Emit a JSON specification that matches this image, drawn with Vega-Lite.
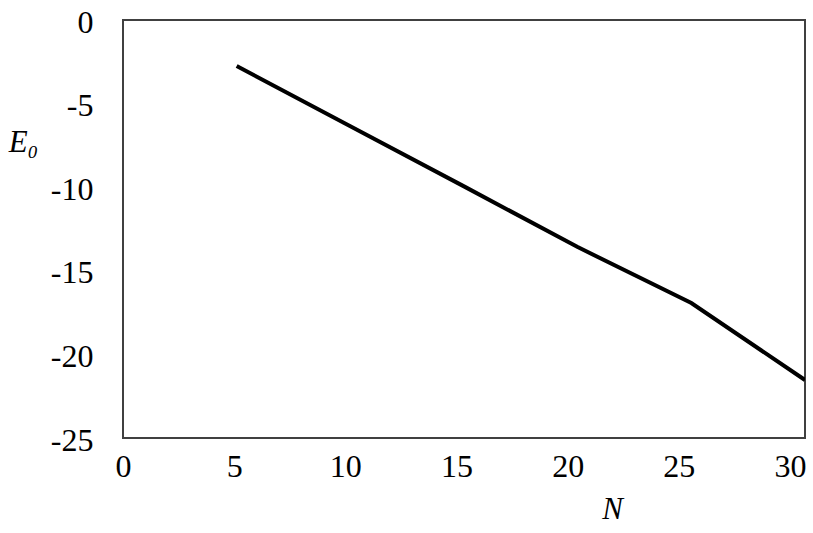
{
  "$schema": "https://vega.github.io/schema/vega-lite/v6.json",
  "width": 682,
  "height": 418,
  "autosize": {"type": "none"},
  "padding": {"left": 123, "top": 20, "right": 8, "bottom": 95},
  "background": "white",
  "config": {
    "view": {"stroke": "#404040", "strokeWidth": 2},
    "axis": {
      "labelFont": "Liberation Serif, Times New Roman, serif",
      "labelFontSize": 32,
      "labelColor": "black",
      "titleFont": "Liberation Serif, Times New Roman, serif",
      "titleFontSize": 31,
      "titleFontWeight": "normal",
      "titleFontStyle": "italic",
      "titleColor": "black",
      "domain": false,
      "ticks": false,
      "grid": false
    }
  },
  "data": {
    "values": [
      {"N": 5, "E0": -2.75},
      {"N": 10, "E0": -6.35},
      {"N": 15, "E0": -9.95},
      {"N": 20, "E0": -13.58},
      {"N": 25, "E0": -16.93},
      {"N": 30, "E0": -21.53}
    ]
  },
  "mark": {"type": "line", "color": "black", "strokeWidth": 4, "clip": true},
  "encoding": {
    "x": {
      "field": "N",
      "type": "quantitative",
      "scale": {"domain": [0, 30], "nice": false},
      "axis": {
        "values": [0, 5, 10, 15, 20, 25, 30],
        "labelPadding": 13,
        "labelFlush": false,
        "labelOverlap": false,
        "labelOffset": {"expr": "-datum.value / 2"},
        "title": "N",
        "titleX": 489,
        "titleY": 71,
        "titleAnchor": null,
        "titleAlign": "center",
        "titleBaseline": "middle"
      }
    },
    "y": {
      "field": "E0",
      "type": "quantitative",
      "scale": {"domain": [-25, 0], "nice": false, "zero": false},
      "axis": {
        "values": [0, -5, -10, -15, -20, -25],
        "labelExpr": "replace(datum.label, '−', '-')",
        "labelPadding": 30,
        "labelOffset": 2,
        "labelFlush": false,
        "labelOverlap": false,
        "title": "E₀",
        "titleAngle": 0,
        "titleX": -100,
        "titleY": 122,
        "titleAlign": "center",
        "titleBaseline": "middle"
      }
    }
  }
}
